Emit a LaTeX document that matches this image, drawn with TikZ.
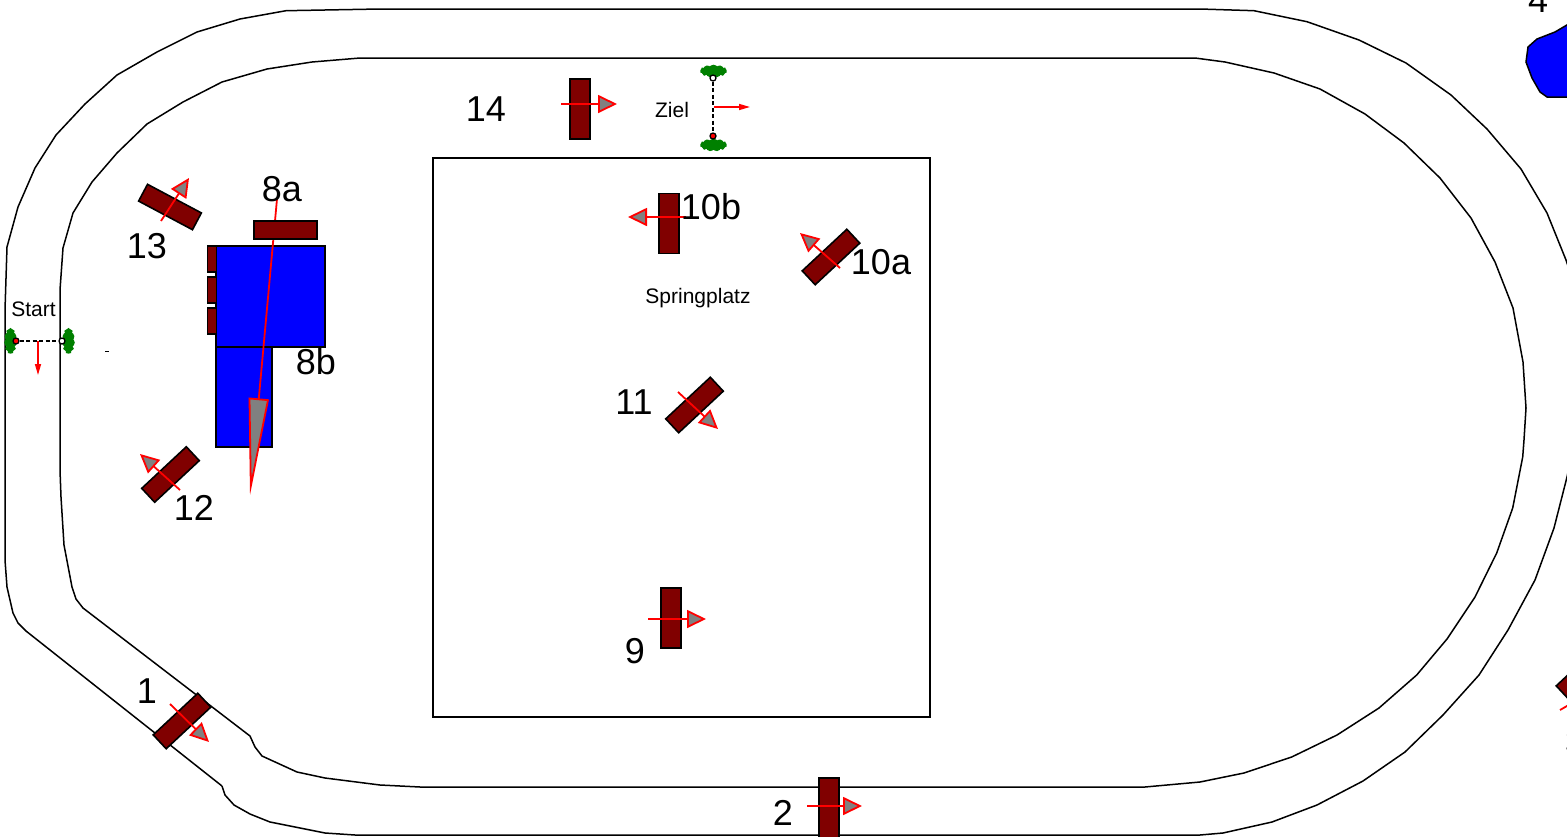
\documentclass[tikz,border=0pt]{standalone}
\usepackage{fontspec}
\setmainfont{Liberation Sans}
\usetikzlibrary{arrows.meta,shapes.symbols}
\definecolor{gatered}{HTML}{800000}
\definecolor{bushgreen}{HTML}{008000}
\definecolor{tipgray}{HTML}{808080}
\tikzset{
  track/.style={draw=black,line width=1.5pt,line join=round},
  gate/.style={draw=black,fill=gatered,line width=1.6pt,minimum width=#1,minimum height=19pt,inner sep=0pt,outer sep=0pt},
  gate/.default=61pt,
  vgate/.style={draw=black,fill=gatered,line width=1.6pt,minimum width=20pt,minimum height=60pt,inner sep=0pt,outer sep=0pt},
  flag/.style={draw=black,fill=gatered,line width=1.2pt,minimum width=9pt,minimum height=26pt,inner sep=0pt,outer sep=0pt},
  obstacle/.style={draw=black,fill=blue,line width=1.5pt,line join=miter},
  dir/.style={draw=red,line width=1.8pt,-{Triangle[length=19pt,width=18pt,fill=tipgray]}},
  smalldir/.style={draw=red,line width=1.5pt,-{Triangle[length=11pt,width=6pt,fill=red]}},
  big/.style={font=\fontsize{36}{40}\selectfont,inner sep=0pt},
  small/.style={font=\fontsize{21}{24}\selectfont,inner sep=0pt},
  hbush/.style={cloud,cloud puffs=11,cloud puff arc=150,aspect=2.1,draw=bushgreen,fill=bushgreen,line width=2.5pt,inner sep=0pt,minimum width=24pt,minimum height=10pt},
  vbush/.style={cloud,cloud puffs=11,cloud puff arc=150,aspect=0.45,draw=bushgreen,fill=bushgreen,line width=2.5pt,inner sep=0pt,minimum width=10pt,minimum height=23pt},
  post/.style={circle,draw=black,line width=1.3pt,inner sep=0pt,minimum size=6pt},
}
\begin{document}
\begin{tikzpicture}[x=1pt,y=-1pt]
\useasboundingbox (0,0) rectangle (1567,836);
\clip (0,0) rectangle (1567,836);
% outer track
\draw[track] (222,786) -- (26,631) -- (18,623) -- (13,613) -- (7,587) -- (5,560) -- (5,310) -- (7,247) -- (18,207) -- (35,168) -- (56,135) -- (85,104) -- (117,75) -- (157,52) -- (197,32) -- (240,19) -- (286,10.7) -- (380,9) -- (1200,9) -- (1254,10.7) -- (1307,21.7) -- (1359,40) -- (1406,63) -- (1451,95) -- (1487,129) -- (1521,169) -- (1547,213) -- (1566,260) -- (1570,272);
\draw[track] (1570,462) -- (1567,477) -- (1554,528) -- (1535,580) -- (1508,630) -- (1479,675) -- (1443,715) -- (1405,752) -- (1363,781) -- (1317,805) -- (1272,822) -- (1223,833) -- (1200,835) -- (355,835) -- (325,833) -- (300,828) -- (270,822) -- (250,814) -- (234,805) -- (225,795) -- (222,786);
% inner track
\draw[track] (83,608) -- (76,599) -- (72,587) -- (64,545) -- (61,497) -- (60,470) -- (60,290) -- (63,248) -- (73,213) -- (92,182) -- (117,153) -- (147,124) -- (183,102) -- (222,82) -- (267,69) -- (312,62) -- (360,58) -- (1195,58) -- (1225,62) -- (1274,73) -- (1320,89) -- (1365,114) -- (1404,143) -- (1440,178) -- (1471,218) -- (1495,262) -- (1513,308) -- (1523,362) -- (1526,408) -- (1524,440) -- (1522.7,457) -- (1512.7,508) -- (1496.7,553) -- (1475,597) -- (1447,639) -- (1416.7,675) -- (1379,708) -- (1337,735) -- (1291.7,757) -- (1244,773) -- (1200,782) -- (1145,787) -- (420,787) -- (380,785) -- (325,778) -- (297,772) -- (262,756) -- (255,747) -- (250,736) -- cycle;
% jumping ground
\node[draw=black,line width=1.3pt,minimum width=497pt,minimum height=559pt,inner sep=0pt] (platz) at (681.5,437.5) {};
% water
\draw[obstacle] (216,246) rectangle (325,347);
\draw[obstacle] (216,347) rectangle (272,447);
\draw[obstacle] (1572,22) -- (1555,32) -- (1537,39) -- (1528,47) -- (1526,62) -- (1532,78) -- (1540,92) -- (1547,97) -- (1572,97) -- cycle;
% 8a / 8b long arrow
\coordinate (a8s) at (277,199);
\coordinate (a8e) at (250,495);
\draw[draw=red,line width=1.8pt,-{Triangle[length=97pt,width=20pt,fill=tipgray]}] (a8s) -- (a8e);
% gates
\node[gate=63pt,minimum height=18pt] (g8a) at (285.5,230) {};
\node[flag] (f1) at (212,259) {};
\node[flag] (f2) at (212,290) {};
\node[flag] (f3) at (212,321) {};
\node[vgate] (g14) at (580,109) {};
\node[vgate] (g10b) at (669,223.5) {};
\node[vgate] (g9) at (671,618) {};
\node[vgate] (g2) at (829,808) {};
\node[gate,rotate=-28] (g13) at (170,207) {};
\node[gate,rotate=43] (g12) at (170.5,474.5) {};
\node[gate,rotate=43] (g10a) at (831,257) {};
\node[gate,rotate=43] (g11) at (694.5,405) {};
\node[gate,rotate=43] (g1) at (182,721) {};
\node[gate,rotate=43] (g3) at (1585,672) {};
% direction arrows
\coordinate (a13s) at (161,221); \coordinate (a13e) at (189,178);
\coordinate (a12s) at (180,490); \coordinate (a12e) at (140,454);
\coordinate (a10as) at (840,268); \coordinate (a10ae) at (800,233);
\coordinate (a10bs) at (686,217); \coordinate (a10be) at (628,217);
\coordinate (a14s) at (561,104); \coordinate (a14e) at (617,104);
\coordinate (a11s) at (678,392); \coordinate (a11e) at (718,429);
\coordinate (a9s) at (648,619); \coordinate (a9e) at (706,619);
\coordinate (a1s) at (170,704); \coordinate (a1e) at (209,742);
\coordinate (a2s) at (807,806); \coordinate (a2e) at (862,806);
\coordinate (a3s) at (1560,710); \coordinate (a3e) at (1600,687);
\draw[dir] (a13s) -- (a13e);
\draw[dir] (a12s) -- (a12e);
\draw[dir] (a10as) -- (a10ae);
\draw[dir] (a10bs) -- (a10be);
\draw[dir] (a14s) -- (a14e);
\draw[dir] (a11s) -- (a11e);
\draw[dir] (a9s) -- (a9e);
\draw[dir] (a1s) -- (a1e);
\draw[dir] (a2s) -- (a2e);
\draw[dir] (a3s) -- (a3e);
% start line
\node[vbush] (bs1) at (10.5,341) {};
\node[vbush] (bs2) at (68.5,341) {};
\node[post,fill=red] (ps1) at (16,341) {};
\node[post,fill=white] (ps2) at (62,341) {};
\draw[line width=1.3pt,dash pattern=on 4pt off 2.5pt] (ps1) -- (ps2);
\coordinate (as) at (38,341); \coordinate (ase) at (38,375);
\draw[smalldir] (as) -- (ase);
% finish line
\node[hbush] (bz1) at (713.5,71) {};
\node[hbush] (bz2) at (713.5,145) {};
\node[post,fill=white] (pz1) at (713,78) {};
\node[post,fill=red] (pz2) at (713,136) {};
\draw[line width=1.3pt,dash pattern=on 4pt off 2.5pt] (pz1) -- (pz2);
\coordinate (az) at (714,107); \coordinate (aze) at (750,107);
\draw[smalldir] (az) -- (aze);
% stray tick
\coordinate (t1) at (105,351); \coordinate (t2) at (109,351);
\draw[line width=0.8pt] (t1) -- (t2);
% labels
\node[big] (l14) at (486,109) {14};
\node[small] (lziel) at (672,110) {Ziel};
\node[big] (l10b) at (711,207) {10b};
\node[big] (l10a) at (881,262) {10a};
\node[small] (lsp) at (698,298.5) {Springplatz};
\node[big] (l8a) at (282,189) {8a};
\node[big] (l13) at (147,246) {13};
\node[big] (l8b) at (316,362) {8b};
\node[small] (lstart) at (33.5,309) {Start};
\node[big] (l12) at (194,508) {12};
\node[big] (l11) at (634,402) {11};
\node[big] (l9) at (635,651) {9};
\node[big] (l1) at (147,691) {1};
\node[big] (l2) at (783,813) {2};
\node[big] (l4) at (1538,0) {4};
\node[big] (l3) at (1575,742) {3};
\end{tikzpicture}
\end{document}
